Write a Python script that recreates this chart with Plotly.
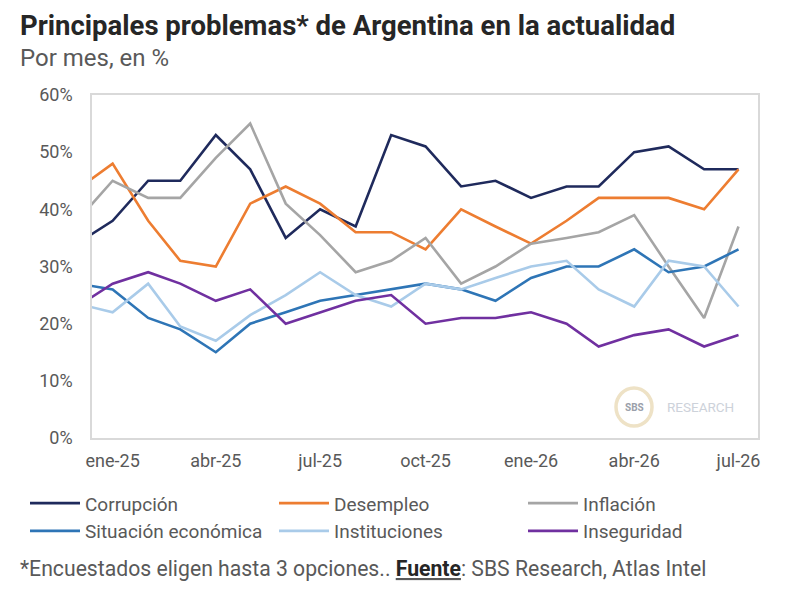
import plotly.graph_objects as go

months = ["2024-12-01", "2025-01-01", "2025-02-01", "2025-03-01", "2025-04-01", "2025-05-01",
          "2025-06-01", "2025-07-01", "2025-08-01", "2025-09-01", "2025-10-01", "2025-11-01",
          "2025-12-01", "2026-01-01", "2026-02-01", "2026-03-01", "2026-04-01", "2026-05-01",
          "2026-06-01", "2026-07-01"]

corrupcion = [34, 38, 45, 45, 53, 47, 35, 40, 37, 53, 51, 44, 45, 42, 44, 44, 50, 51, 47, 47]
desempleo = [43.5, 48, 38, 31, 30, 41, 44, 41, 36, 36, 33, 40, 37, 34, 38, 42, 42, 42, 40, 47]
inflacion = [38, 45, 42, 42, 49, 55, 41, 35.5, 29, 31, 35, 27, 30, 34, 35, 36, 39, 30, 21, 37]
situacion = [27, 26, 21, 19, 15, 20, 22, 24, 25, 26, 27, 26, 24, 28, 30, 30, 33, 29, 30, 33]
instituciones = [23.5, 22, 27, 19.5, 17, 21.5, 25, 29, 25, 23, 27, 26, 28, 30, 31, 26, 23, 31, 30, 23]
inseguridad = [23, 27, 29, 27, 24, 26, 20, 22, 24, 25, 20, 21, 21, 22, 20, 16, 18, 19, 16, 18]

tick_dates = ["2025-01-01", "2025-04-01", "2025-07-01", "2025-10-01", "2026-01-01", "2026-04-01", "2026-07-01"]
tick_labels = ["ene-25", "abr-25", "jul-25", "oct-25", "ene-26", "abr-26", "jul-26"]
y_ticks = [0, 10, 20, 30, 40, 50, 60]
y_labels = ["0%", "10%", "20%", "30%", "40%", "50%", "60%"]

series = [
    ("Corrupción", corrupcion, "#1f2a5c"),
    ("Desempleo", desempleo, "#ed7d31"),
    ("Inflación", inflacion, "#a5a5a5"),
    ("Situación económica", situacion, "#2e75b6"),
    ("Instituciones", instituciones, "#a9cbe9"),
    ("Inseguridad", inseguridad, "#7030a0"),
]

fig = go.Figure()
for name, vals, col in series:
    fig.add_trace(go.Scatter(x=months, y=vals, name=name, mode="lines",
                             line=dict(color=col, width=2.6)))

font = "Roboto, 'Open Sans', sans-serif"
# page body adds an 8px offset, so the figure is 792x598
fig.update_layout(
    width=792, height=598,
    paper_bgcolor="white", plot_bgcolor="white",
    margin=dict(l=84, r=42, t=87, b=168),
    font=dict(family=font, color="#595959", size=18),
    showlegend=True,
    legend=dict(orientation="h", x=-0.1006, y=-0.135, xanchor="left", yanchor="top",
                entrywidth=184, entrywidthmode="pixels", tracegroupgap=0,
                font=dict(size=19, color="#595959"), itemwidth=50,
                bgcolor="rgba(0,0,0,0)"),
)
fig.update_xaxes(type="date", range=["2024-12-14", "2026-07-18"],
                 tickvals=tick_dates, ticktext=tick_labels,
                 showgrid=False, zeroline=False,
                 showline=True, linecolor="#d9d9d9", linewidth=1.5, mirror=True,
                 ticks="", ticklabelstandoff=6, tickfont=dict(size=18, color="#595959"))
fig.update_yaxes(range=[0, 60], tickvals=y_ticks, ticktext=y_labels,
                 showgrid=False, zeroline=False,
                 showline=True, linecolor="#d9d9d9", linewidth=1.5, mirror=True,
                 ticks="", ticklabelstandoff=14, tickfont=dict(size=18, color="#595959"))

# Title and subtitle
fig.add_annotation(text="<b>Principales problemas* de Argentina en la actualidad</b>",
                   xref="paper", yref="paper", x=-0.111, y=1.0, yshift=70,
                   xanchor="left", yanchor="middle", showarrow=False,
                   font=dict(size=27.5, color="#262626", family=font))
fig.add_annotation(text="Por mes, en %",
                   xref="paper", yref="paper", x=-0.111, y=1.0, yshift=37,
                   xanchor="left", yanchor="middle", showarrow=False,
                   font=dict(size=24, color="#595959", family=font))

# Footer
fig.add_annotation(text="*Encuestados eligen hasta 3 opciones.. <b><u><span style='color:#262626'>Fuente</span></u></b>: SBS Research, Atlas Intel",
                   xref="paper", yref="paper", x=-0.111, y=0.0, yshift=-130,
                   xanchor="left", yanchor="middle", showarrow=False,
                   font=dict(size=21.2, color="#595959", family=font))

# Watermark
fig.add_shape(type="circle", xref="paper", yref="paper",
              x0=(616 - 92) / 666, x1=(652 - 92) / 666,
              y0=(438 - 426) / 343, y1=(438 - 388) / 343,
              line=dict(color="#eee2c6", width=3.5), fillcolor="rgba(0,0,0,0)")
fig.add_annotation(text="<b>SBS</b>", xref="paper", yref="paper",
                   x=(634 - 92) / 666, y=(438 - 407) / 343, showarrow=False,
                   xanchor="center", yanchor="middle",
                   font=dict(size=10, color="#9aa0aa", family=font))
fig.add_annotation(text="RESEARCH", xref="paper", yref="paper",
                   x=(665 - 92) / 666, y=(438 - 407) / 343, showarrow=False,
                   xanchor="left", yanchor="middle",
                   font=dict(size=13.5, color="#cdd2da", family=font))

fig.write_html("out.html")
